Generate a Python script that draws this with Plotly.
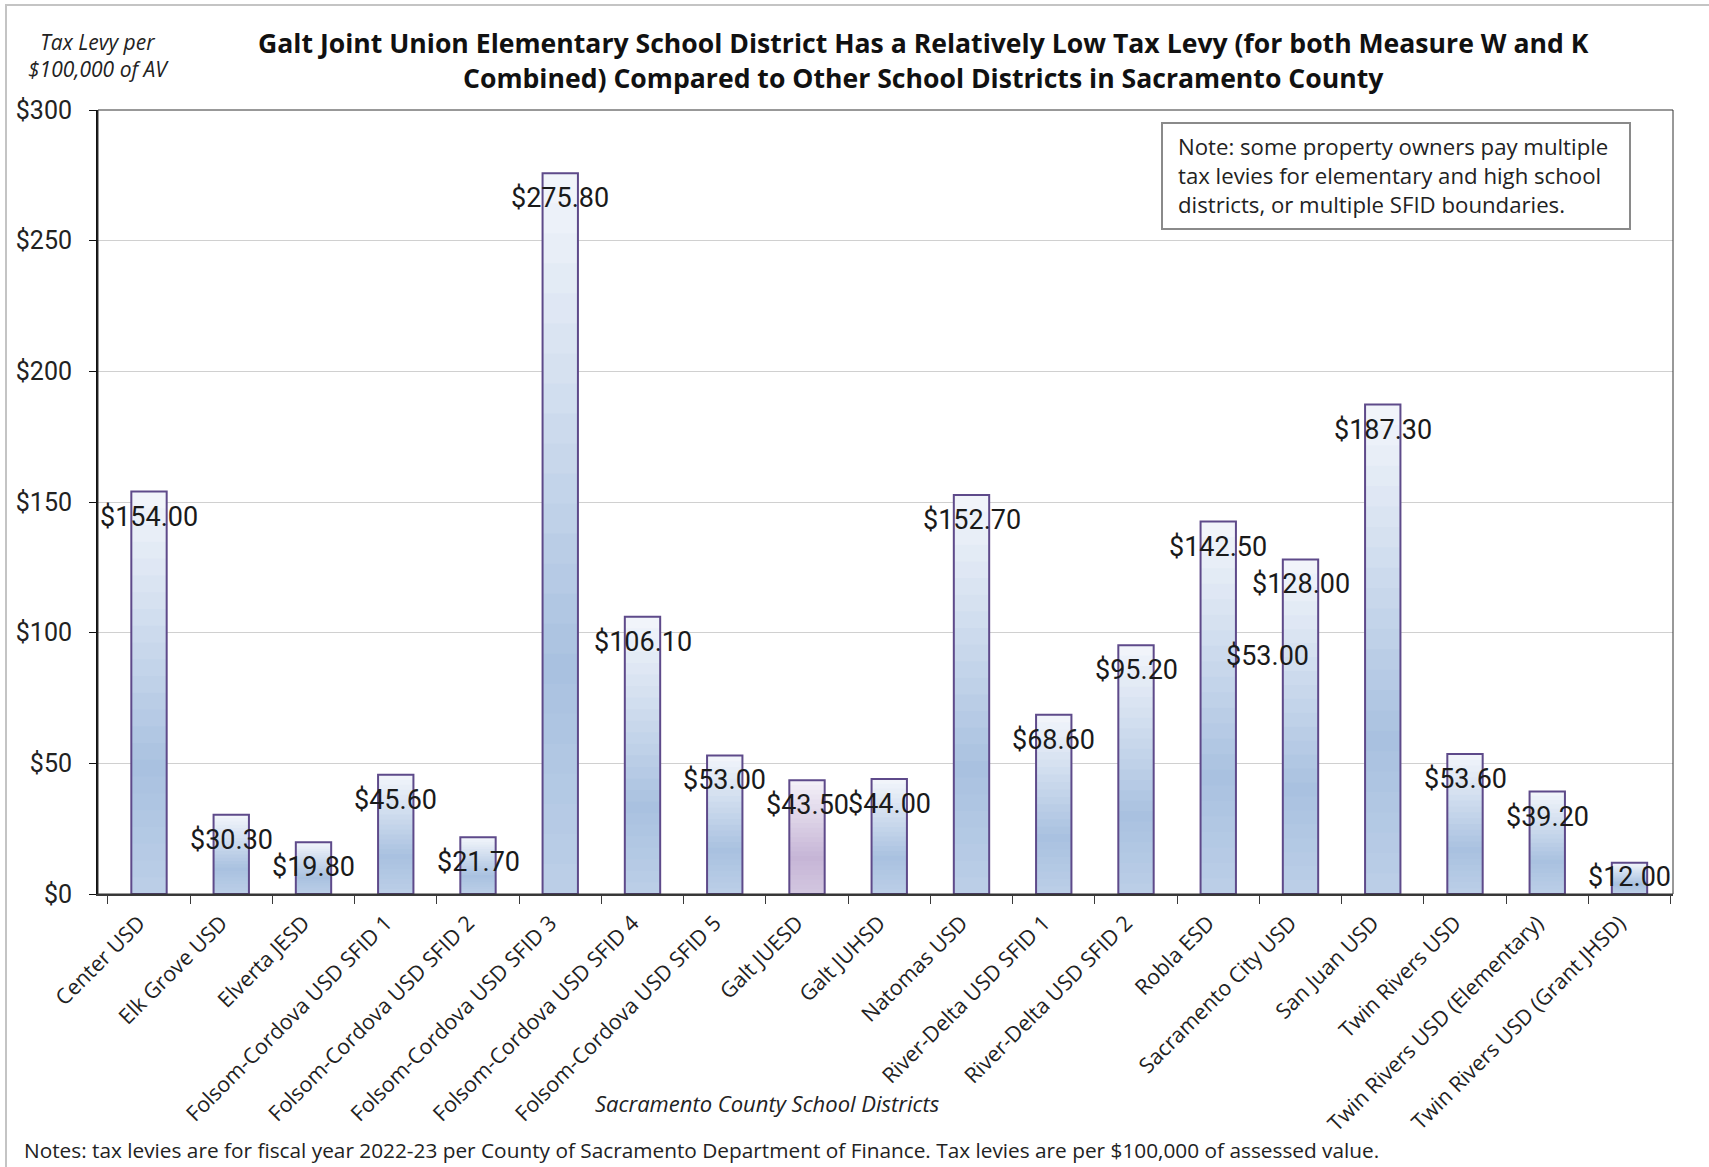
import plotly.graph_objects as go

# ---------------- data ----------------
districts = [
    "Center USD", "Elk Grove USD", "Elverta JESD", "Folsom-Cordova USD SFID 1",
    "Folsom-Cordova USD SFID 2", "Folsom-Cordova USD SFID 3", "Folsom-Cordova USD SFID 4",
    "Folsom-Cordova USD SFID 5", "Galt JUESD", "Galt JUHSD", "Natomas USD",
    "River-Delta USD SFID 1", "River-Delta USD SFID 2", "Robla ESD", "Sacramento City USD",
    "San Juan USD", "Twin Rivers USD", "Twin Rivers USD (Elementary)", "Twin Rivers USD (Grant JHSD)",
]
levy = [154.00, 30.30, 19.80, 45.60, 21.70, 275.80, 106.10, 53.00, 43.50, 44.00,
        152.70, 68.60, 95.20, 142.50, 128.00, 187.30, 53.60, 39.20, 12.00]
highlight = "Galt JUESD"
stray_label_text = "$53.00"
stray_label_value = 91.0
stray_label_pos = 13.6  # category index position of stray label
y_ticks = [0, 50, 100, 150, 200, 250, 300]

title_text = ("Galt Joint Union Elementary School District Has a Relatively Low Tax Levy (for both Measure W and K"
              "<br>Combined) Compared to Other School Districts in Sacramento County")
y_title = "Tax Levy per<br>$100,000 of AV"
x_title = "Sacramento County School Districts"
note_box = ("Note: some property owners pay multiple<br>tax levies for elementary and high school"
            "<br>districts, or multiple SFID boundaries.")
footnote = ("Notes: tax levies are for fiscal year 2022-23 per County of Sacramento Department of Finance. "
            "Tax levies are per $100,000 of assessed value.")

# ---------------- layout geometry ----------------
W, H = 1709, 1167
L, R, T, B = 98, 36, 110, 273
PW, PH = W - L - R, H - T - B
NUMFONT = "Roboto, 'DejaVu Sans', sans-serif"
TXTFONT = "'Open Sans', Roboto, 'DejaVu Sans', sans-serif"
YMAX = 300


def px_x(x):
    return (x - L) / PW


def px_y(y):
    return (H - B - y) / PH


def hex2rgb(h):
    h = h.lstrip("#")
    return tuple(int(h[i:i + 2], 16) for i in (0, 2, 4))


def grad(stops, t):
    for (t0, c0), (t1, c1) in zip(stops, stops[1:]):
        if t0 <= t <= t1:
            a = (t - t0) / (t1 - t0) if t1 > t0 else 0
            r0, g0, b0 = hex2rgb(c0)
            r1, g1, b1 = hex2rgb(c1)
            return "rgb(%d,%d,%d)" % (round(r0 + (r1 - r0) * a), round(g0 + (g1 - g0) * a), round(b0 + (b1 - b0) * a))
    return stops[-1][1]


blue_stops = [(0.0, "#BCCFE8"), (0.32, "#A9C1E0"), (1.0, "#F3F6FB")]
purple_stops = [(0.0, "#D3C7E0"), (0.32, "#C6B5D6"), (1.0, "#F4F1F8")]

fig = go.Figure()

N = 24
for k in range(N):
    frac = (N - k) / N
    t = frac - 0.5 / N
    colors = [grad(purple_stops if d == highlight else blue_stops, t) for d in districts]
    fig.add_trace(go.Bar(
        x=districts, y=[v * frac for v in levy],
        marker=dict(color=colors, line=dict(width=0)),
        hoverinfo="skip", showlegend=False,
    ))

# outline
fig.add_trace(go.Bar(
    x=districts, y=levy,
    marker=dict(color="rgba(0,0,0,0)", line=dict(color="#5E4A8A", width=2)),
    hoverinfo="skip", showlegend=False,
))

annotations = []
px_per_unit = PH / YMAX
for d, v in zip(districts, levy):
    h = v * px_per_unit
    off = min(25, h - 17)
    annotations.append(dict(
        x=d, y=v, xref="x", yref="y", text="$%.2f" % v, showarrow=False,
        yshift=-off, yanchor="middle", xanchor="center",
        font=dict(family=NUMFONT, size=27, color="#1a1a1a"),
    ))
annotations.append(dict(
    x=stray_label_pos, y=stray_label_value, xref="x", yref="y", text=stray_label_text, showarrow=False,
    yanchor="middle", xanchor="center", font=dict(family=NUMFONT, size=27, color="#1a1a1a"),
))

annotations.append(dict(
    x=px_x(923), y=px_y(60), xref="paper", yref="paper", text="<b>" + title_text + "</b>",
    showarrow=False, xanchor="center", yanchor="middle", align="center",
    font=dict(family=TXTFONT, size=26.6, color="#111111"),
))
annotations.append(dict(
    x=px_x(98), y=px_y(56), xref="paper", yref="paper", text=y_title,
    showarrow=False, xanchor="center", yanchor="middle", align="center",
    font=dict(family=TXTFONT, size=21, color="#222222", style="italic"),
))
annotations.append(dict(
    x=px_x(767), y=px_y(1103), xref="paper", yref="paper", text=x_title,
    showarrow=False, xanchor="center", yanchor="middle",
    font=dict(family=TXTFONT, size=22, color="#222222", style="italic"),
))
annotations.append(dict(
    x=px_x(22), y=px_y(1150), xref="paper", yref="paper", text=footnote,
    showarrow=False, xanchor="left", yanchor="middle",
    font=dict(family=TXTFONT, size=20.8, color="#222222"),
))
annotations.append(dict(
    x=px_x(1176), y=px_y(176), xref="paper", yref="paper", text=note_box,
    showarrow=False, xanchor="left", yanchor="middle", align="left",
    font=dict(family=TXTFONT, size=22.2, color="#222222"),
))

shapes = [
    # note box
    dict(type="rect", xref="paper", yref="paper", x0=px_x(1162), x1=px_x(1630), y0=px_y(123), y1=px_y(229),
         line=dict(color="#8a8a8a", width=2), fillcolor="white", layer="above"),
    # plot frame (top & right)
    dict(type="rect", xref="paper", yref="paper", x0=0, x1=1, y0=0, y1=1,
         line=dict(color="#333333", width=1), fillcolor="rgba(0,0,0,0)"),
    # outer chart frame
    dict(type="rect", xref="paper", yref="paper", x0=px_x(6), x1=px_x(W + 20), y0=px_y(H + 20), y1=px_y(5),
         line=dict(color="#c4c4c4", width=2), fillcolor="rgba(0,0,0,0)"),
]

fig.update_layout(
    width=W, height=H,
    margin=dict(l=L, r=R, t=T, b=B, autoexpand=False),
    paper_bgcolor="white", plot_bgcolor="white",
    barmode="overlay", bargap=0.57,
    showlegend=False,
    annotations=annotations,
    shapes=shapes,
    font=dict(family=TXTFONT, color="#222222"),
)
fig.update_xaxes(
    type="category", showline=True, linecolor="#3a3a3a", linewidth=2,
    ticks="outside", tickson="boundaries", ticklen=8, tickcolor="#3a3a3a", tickwidth=1,
    tickangle=-45, tickfont=dict(family=TXTFONT, size=21.5, color="#222222"),
    ticklabelshift=-10, ticklabelstandoff=6,
    showgrid=False, fixedrange=True,
)
fig.update_yaxes(
    range=[0, YMAX], tickvals=y_ticks, ticktext=["$%d" % v for v in y_ticks],
    showline=True, linecolor="#111111", linewidth=2,
    ticks="outside", ticklen=7, tickcolor="#111111",
    tickfont=dict(family=NUMFONT, size=25, color="#222222"),
    ticklabelstandoff=12,
    showgrid=True, gridcolor="#d0d0d0", gridwidth=1, zeroline=False, fixedrange=True,
)

fig.write_html("out.html")
